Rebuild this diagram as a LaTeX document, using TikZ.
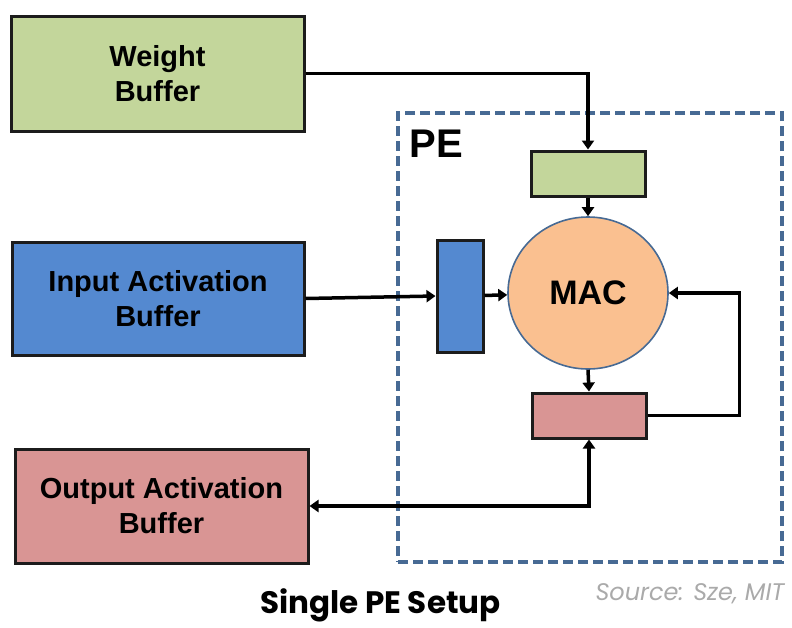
\documentclass[tikz,border=0pt]{standalone}
\usepackage{fontspec}
\setmainfont{Liberation Sans}
\newfontfamily\capfont{Poppins}
\usetikzlibrary{arrows.meta,shapes.geometric}

\definecolor{wgreen}{RGB}{195,214,155}
\definecolor{iblue}{RGB}{84,137,208}
\definecolor{opink}{RGB}{217,149,148}
\definecolor{macorange}{RGB}{250,192,144}
\definecolor{peblue}{RGB}{71,106,148}
\definecolor{edge}{RGB}{28,28,28}
\definecolor{srcgray}{RGB}{170,170,170}

\tikzset{
  x=1pt, y=-1pt,
  buffer/.style={draw=edge, line width=3pt, rectangle, align=center,
    font=\fontsize{29}{35}\selectfont\bfseries, inner sep=0pt},
  reg/.style={draw=edge, line width=3pt, rectangle, inner sep=0pt},
  conn/.style={draw=black, line width=3.5pt,
    -{Triangle[length=9pt,width=12pt]}},
}

\begin{document}
\begin{tikzpicture}
\useasboundingbox (0,0) rectangle (792,627);

% processing-element outline
\node[draw=peblue, line width=3.2pt, dash pattern=on 10pt off 5pt,
      minimum width=384pt, minimum height=449pt, inner sep=0pt] (pe) at (590,337.5) {};
\node[font=\fontsize{40}{40}\selectfont\bfseries, inner sep=0pt] (pelabel) at (436.5,144) {PE};

% global buffers
\node[buffer, fill=wgreen, minimum width=293pt, minimum height=115pt] (wbuf) at (157.5,73.5) {Weight\\Buffer};
\node[buffer, fill=iblue, minimum width=292pt, minimum height=113pt] (ibuf) at (158,298.5) {Input Activation\\Buffer};
\node[buffer, fill=opink, minimum width=293pt, minimum height=114pt] (obuf) at (161.5,506) {Output Activation\\Buffer};

% local registers and the MAC unit
\node[reg, fill=wgreen, minimum width=114pt, minimum height=45pt] (wreg) at (588,173.5) {};
\node[reg, fill=iblue, minimum width=46pt, minimum height=112pt] (ireg) at (460,296) {};
\node[reg, fill=opink, minimum width=114pt, minimum height=45pt] (oreg) at (589,415.5) {};
\node[ellipse, draw=peblue, line width=1.6pt, fill=macorange,
      minimum width=160pt, minimum height=152pt, inner sep=0pt,
      font=\fontsize{34}{34}\selectfont\bfseries] (mac) at (588,293) {MAC};

% data movement
\draw[conn] (wbuf.east) -| (wreg.north);
\draw[conn] (wreg.south) -- (mac.north);
\draw[conn] (ibuf.east) -- (ireg.west);
\draw[conn] (ireg) -- (mac);
\draw[conn] (mac.south) -- (oreg.north);
\draw[conn] (oreg.east) -- ++(92,0) |- (mac.east);
\draw[conn, {Triangle[length=9pt,width=12pt]}-{Triangle[length=9pt,width=12pt]}]
  (obuf.east) -| (oreg.south);

% caption and credit
\node[font=\capfont\fontsize{31}{31}\selectfont\bfseries, inner sep=0pt] (caption) at (380.5,605) {Single PE Setup};
\node[font=\capfont\fontsize{24}{24}\selectfont\itshape, text=srcgray, inner sep=0pt] (source) at (690,594) {Source: Sze, MIT};
\end{tikzpicture}
\end{document}
